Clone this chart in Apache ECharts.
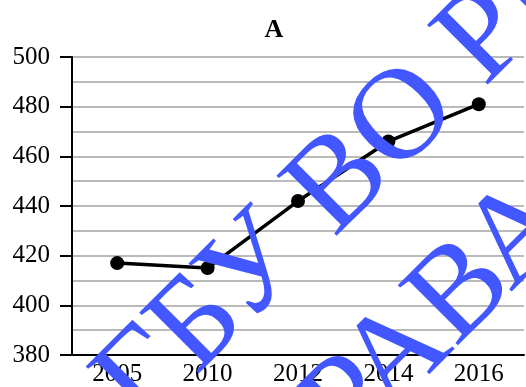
<!DOCTYPE html>
<html><head><meta charset="utf-8">
<script src="https://cdn.jsdelivr.net/npm/echarts@6/dist/echarts.min.js"></script>
<style>html,body{margin:0;padding:0;background:#fff}#c{width:526px;height:387px}</style>
</head><body><div id="c"></div>
<script>
var titleText = 'A';
var categories = ['2005', '2010', '2012', '2014', '2016'];
var values = [417, 415, 442, 466, 481];
var yMin = 380, yMax = 500, yStep = 20;
var watermark1 = 'ГБУ ВО РЦОКО';
var watermark2 = 'ПРАВА';

var serif = '"Liberation Serif", "Times New Roman", serif';
var wmColor = '#4257ff';
var chart = echarts.init(document.getElementById('c'));
chart.setOption({
  animation: false,
  title: {text: titleText, left: 269, top: 12, textAlign: 'center',
    textStyle: {fontFamily: serif, fontWeight: 'bold', fontSize: 26, color: '#000'}},
  grid: {left: 72, right: 2, top: 57, bottom: 30, containLabel: false},
  xAxis: {type: 'category', data: categories, boundaryGap: true,
    axisLine: {lineStyle: {color: '#000', width: 2}},
    axisTick: {alignWithLabel: true, inside: true, length: 10, lineStyle: {color: '#000', width: 2}},
    axisLabel: {fontFamily: serif, fontSize: 25, color: '#000', margin: 7},
    splitLine: {show: false}},
  yAxis: {type: 'value', min: yMin, max: yMax, interval: yStep,
    axisLine: {show: true, lineStyle: {color: '#000', width: 2}},
    axisTick: {show: true, length: 12, lineStyle: {color: '#000', width: 2}},
    axisLabel: {fontFamily: serif, fontSize: 25, color: '#000', margin: 22},
    splitLine: {show: true, lineStyle: {color: '#a3a3a3', width: 1.6}},
    minorTick: {show: false, splitNumber: 2},
    minorSplitLine: {show: true, lineStyle: {color: '#a3a3a3', width: 1.6}}},
  series: [{type: 'line', data: values, symbol: 'circle', symbolSize: 14,
    itemStyle: {color: '#000'}, lineStyle: {color: '#000', width: 3.5}, z: 3}],
  graphic: [
    {type: 'text', x: 119, y: 405, rotation: Math.PI / 4, z: 100,
      style: {text: watermark1, fontFamily: serif, fontSize: 130, fill: wmColor, align: 'left', verticalAlign: 'middle'}},
    {type: 'text', x: 259, y: 496, rotation: Math.PI / 4, z: 100,
      style: {text: watermark2, fontFamily: serif, fontSize: 130, fill: wmColor, align: 'left', verticalAlign: 'middle'}}
  ]
});
</script></body></html>
